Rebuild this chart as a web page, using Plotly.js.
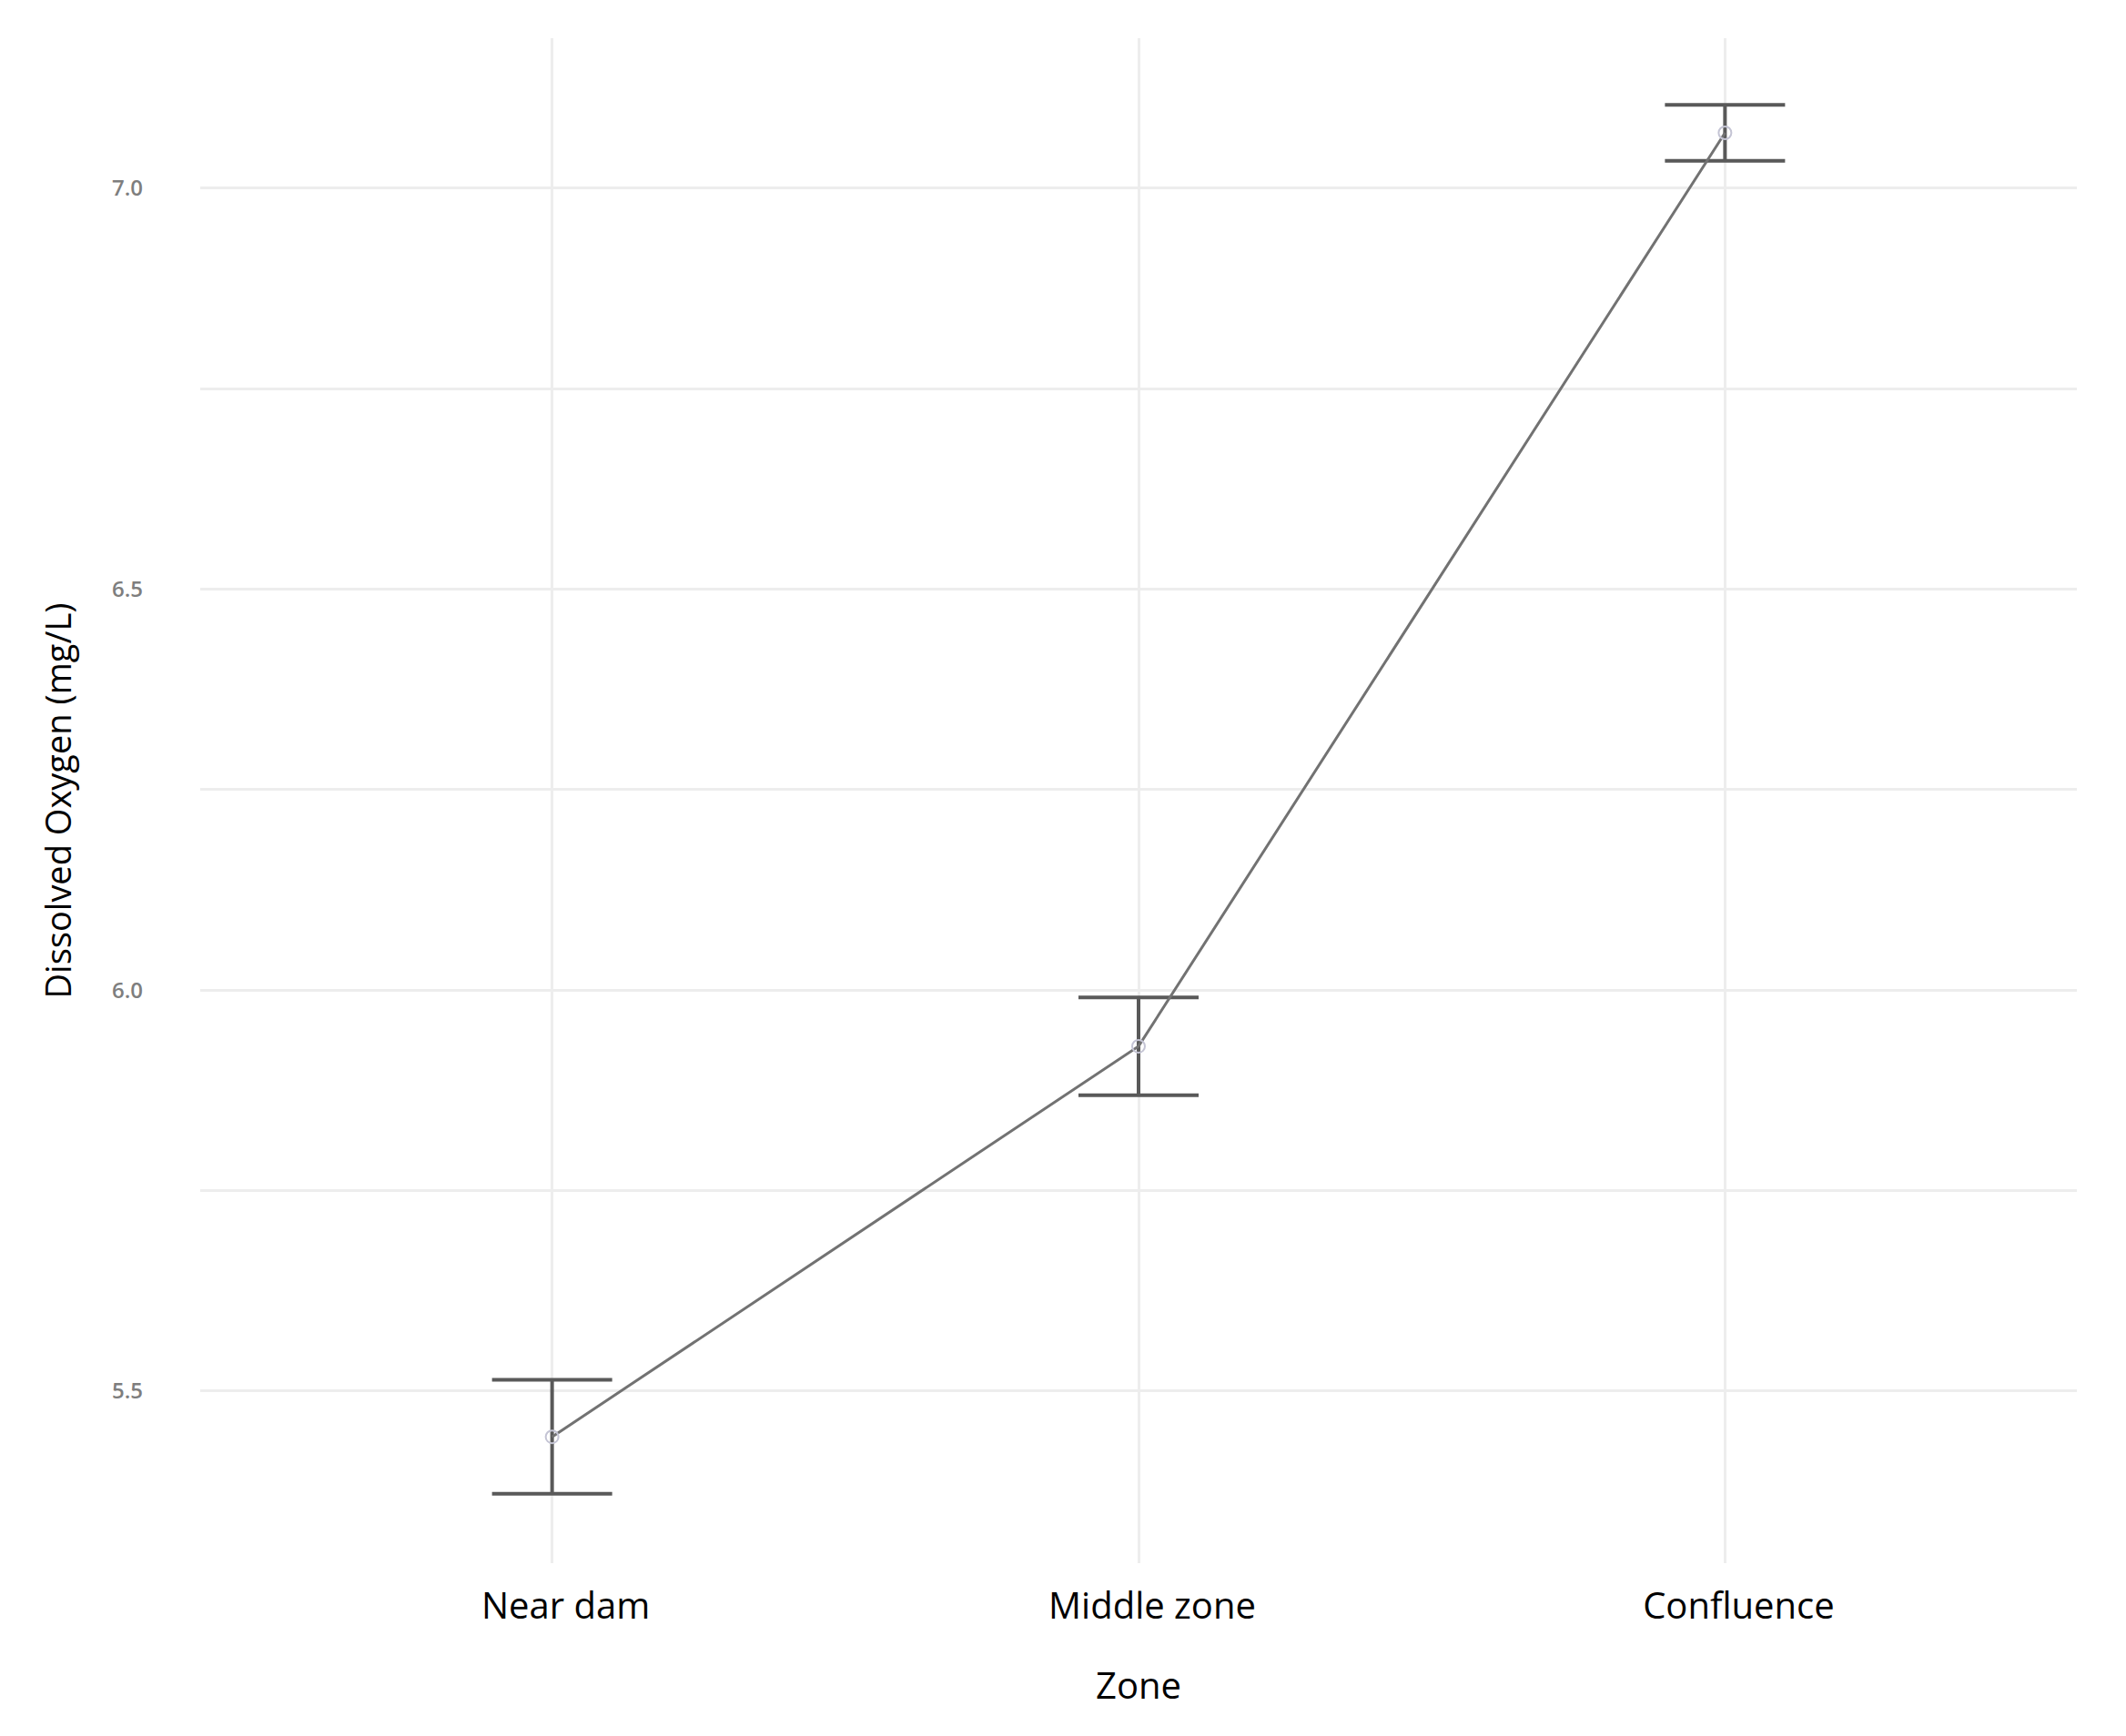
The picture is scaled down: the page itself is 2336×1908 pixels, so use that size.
<!DOCTYPE html>
<html>
<head>
<meta charset="utf-8">
<script src="https://cdn.plot.ly/plotly-3.0.1.min.js"></script>
<style>
  html, body { margin: 0; padding: 0; background: #fff; }
  #chart { width: 2336px; height: 1908px; }
</style>
</head>
<body>
<div id="chart"></div>
<script>
// ─────────────────────────────
// DATOS
// ─────────────────────────────
const ZONAS = ['Near dam', 'Middle zone', 'Confluence'];
const OD_MEDIA = [5.443, 5.930, 7.069];
const OD_ERROR = [0.071, 0.061, 0.035];
const Y_TICKS = [5.5, 6.0, 6.5, 7.0];
const Y_LABELS = ['5.5', '6.0', '6.5', '7.0'];


// ─────────────────────────────
// ESTILO
// ─────────────────────────────
const FUENTE = '"Open Sans", "DejaVu Sans", sans-serif';
const GRIS_GRID = '#ededed';


// ─────────────────────────────
// GRÁFICA
// ─────────────────────────────
const traza = {
  x: ZONAS,
  y: OD_MEDIA,
  type: 'scatter',
  mode: 'lines+markers',
  line: { color: '#727272', width: 3 },
  marker: {
    symbol: 'circle-open',
    size: 14,
    color: '#c4c4d4',
    line: { width: 2 }
  },
  error_y: {
    type: 'data',
    array: OD_ERROR,
    visible: true,
    color: '#595959',
    thickness: 4,
    width: 66
  },
  hoverinfo: 'skip',
  showlegend: false
};

const layout = {
  width: 2336,
  height: 1908,
  paper_bgcolor: '#fff',
  plot_bgcolor: '#fff',
  margin: { l: 220, r: 54, t: 42, b: 190 },
  font: { family: FUENTE, color: '#000' },
  xaxis: {
    type: 'category',
    range: [-0.6, 2.6],
    showgrid: true,
    gridcolor: GRIS_GRID,
    gridwidth: 3,
    zeroline: false,
    showline: false,
    ticks: '',
    ticklabelstandoff: 20,
    ticklabelshift: 15,
    tickfont: { family: FUENTE, size: 40, color: '#000', weight: 500 },
    title: {
      text: 'Zone',
      font: { family: FUENTE, size: 40, color: '#000', weight: 500 },
      standoff: 48
    },
    automargin: false
  },
  yaxis: {
    range: [5.2855, 7.187],
    tickvals: Y_TICKS,
    ticktext: Y_LABELS,
    showgrid: true,
    gridcolor: GRIS_GRID,
    gridwidth: 3,
    minor: { dtick: 0.25, showgrid: true, gridcolor: GRIS_GRID, gridwidth: 3 },
    zeroline: false,
    showline: false,
    ticks: '',
    ticklabelstandoff: 62,
    tickfont: { family: FUENTE, size: 24, color: '#7e7e7e', weight: 600 },
    title: {
      text: 'Dissolved Oxygen (mg/L)',
      font: { family: FUENTE, size: 38, color: '#000', weight: 500 },
      standoff: 32
    },
    automargin: false
  }
};

Plotly.newPlot('chart', [traza], layout, { displayModeBar: false, staticPlot: true });
</script>
</body>
</html>
